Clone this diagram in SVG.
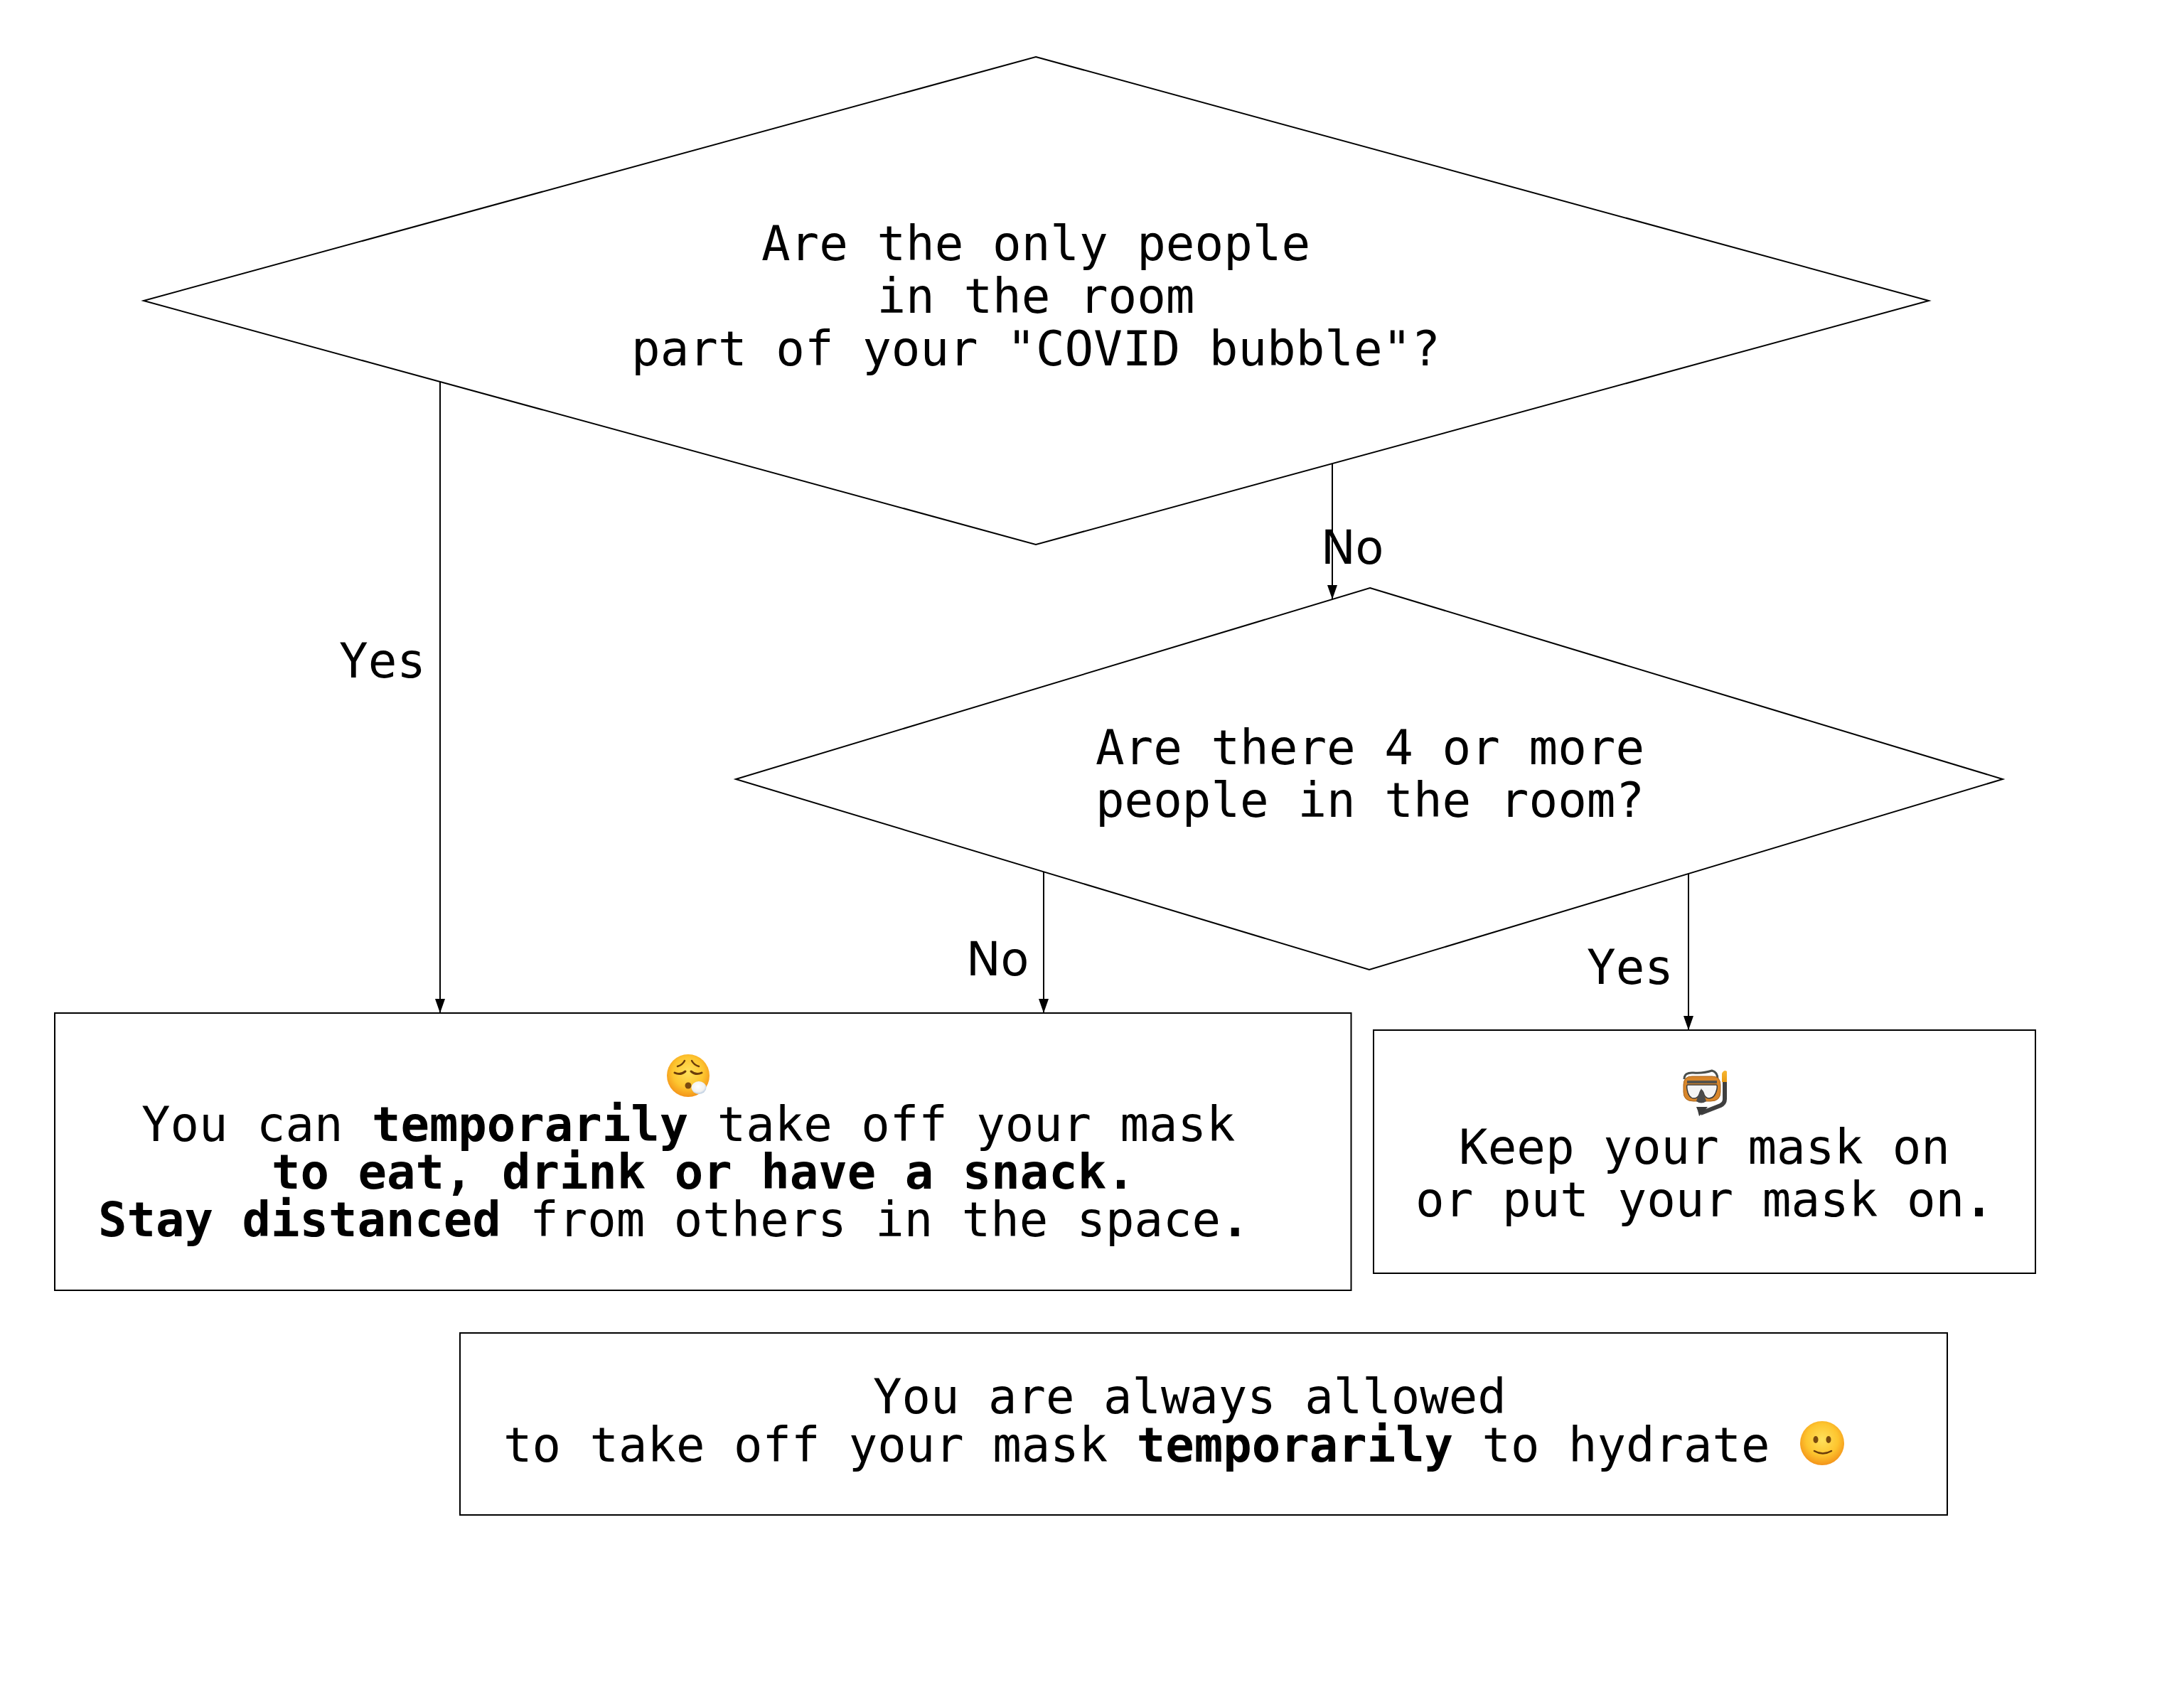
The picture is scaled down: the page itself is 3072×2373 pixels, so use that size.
<svg xmlns="http://www.w3.org/2000/svg" width="3072" height="2373" viewBox="0 0 3072 2373">
<style>
.c{fill:none;stroke:#000;stroke-width:2}
.o{fill:none;stroke:#000;stroke-width:2}
text{font-family:"DejaVu Sans Mono","Liberation Mono",monospace;font-size:67.5px;fill:#000;text-anchor:middle}
.l{text-anchor:start}
.t{font-size:67.25px}
.p{font-family:"DejaVu Sans","Liberation Sans",sans-serif;font-size:65px}
tspan.b{font-weight:bold}
</style>
<defs>
<marker id="arrow" markerUnits="userSpaceOnUse" viewBox="0 0 20 14" refX="20" refY="7" markerWidth="20" markerHeight="14" orient="auto"><path d="M0 0V14L20 7Z" fill="#000"/></marker>
<radialGradient id="face" cx="0.5" cy="0.42" r="0.6"><stop offset="0" stop-color="#ffe15c"/><stop offset="0.6" stop-color="#fdc52f"/><stop offset="0.92" stop-color="#f59a1c"/><stop offset="1" stop-color="#ee8a1a"/></radialGradient>
<radialGradient id="puff" cx="0.45" cy="0.4" r="0.6"><stop offset="0" stop-color="#fff"/><stop offset="0.7" stop-color="#f2f2f2"/><stop offset="1" stop-color="#b8cbe0"/></radialGradient>
<linearGradient id="tip" x1="0" y1="0" x2="0" y2="1"><stop offset="0" stop-color="#f7b733"/><stop offset="1" stop-color="#e89a12"/></linearGradient>
</defs>
<rect width="3072" height="2373" fill="#fff"/>
<g id="connectors">
<path class="c" d="M619 537V1425" marker-end="url(#arrow)"/>
<path class="c" d="M1874 653V843" marker-end="url(#arrow)"/>
<path class="c" d="M1468 1226V1425" marker-end="url(#arrow)"/>
<path class="c" d="M2375 1229V1449" marker-end="url(#arrow)"/>
</g>
<g id="decision-bubble">
<path class="o" d="M1457 80L2713 423L1457 766L202 423Z"/>
<text x="1457" y="366">Are the only people</text>
<text x="1457" y="440">in the room</text>
<text x="1457" y="514">part of your "COVID bubble"?</text>
</g>
<g id="decision-count">
<path class="o" d="M1927 827L2817 1096L1926 1364L1035 1096Z"/>
<text x="1927" y="1075">Are there 4 or more</text>
<text x="1927" y="1149">people in the room?</text>
</g>
<g id="outcome-temporary">
<rect class="o" x="77" y="1425" width="1823.500" height="390"/>
<circle cx="968" cy="1513" r="30" fill="url(#face)"/>
<path d="M953 1500Q960 1498 963 1492M973 1492Q976 1498 983 1500" fill="none" stroke="#6b3d0a" stroke-width="2.500" stroke-linecap="round"/>
<path d="M949 1509Q957 1513 964 1507M972 1507Q979 1513 987 1509" fill="none" stroke="#6b3d0a" stroke-width="3" stroke-linecap="round"/>
<circle cx="968" cy="1527" r="4.500" fill="#7a4a0e"/>
<ellipse cx="983" cy="1530" rx="10.500" ry="9" fill="url(#puff)"/>
<text class="l t" x="199" y="1605">You can <tspan class="b">temporarily</tspan> take off your mask</text>
<text class="l t" x="382" y="1672"><tspan class="b">to eat, drink or have a snack.</tspan></text>
<text class="l t" x="138" y="1739"><tspan class="b">Stay distanced</tspan> from others in the space<tspan class="b">.</tspan></text>
</g>
<g id="outcome-keep">
<rect class="o" x="1932" y="1449" width="931" height="342"/>
<path d="M2369 1518Q2369 1508 2382 1509Q2396 1510 2408 1506Q2416 1508 2416 1518" fill="none" stroke="#4a4f4c" stroke-width="3"/>
<path d="M2368 1526Q2368 1514 2380 1514H2408Q2420 1514 2420 1526V1536Q2420 1549 2406 1549H2382Q2368 1549 2368 1536Z" fill="#d8862a" stroke="#a8651c" stroke-width="1"/>
<path d="M2373 1520H2415V1524H2373Z" fill="#55524a"/>
<path d="M2374 1526H2414Q2416 1526 2415 1532Q2412 1545 2404 1545Q2398 1545 2396 1537Q2393 1530 2391 1537Q2389 1545 2383 1545Q2375 1545 2373 1532Q2372 1526 2374 1526Z" fill="#f4f4f4" stroke="#3c3c3c" stroke-width="1.500"/>
<path d="M2393 1531Q2387 1545 2386 1549Q2393 1554 2400 1549Q2399 1545 2393 1531Z" fill="#4a4a4a"/>
<path d="M2426 1522V1546Q2426 1552 2420 1555L2392 1566" fill="none" stroke="#3f3f3f" stroke-width="6"/>
<path d="M2386 1557H2402L2396 1564L2390 1570L2388 1562Z" fill="#3a3a3a"/>
<path d="M2422 1510Q2425 1504 2429 1507V1522H2422Z" fill="url(#tip)"/>
<text x="2397.500" y="1637">Keep your mask on</text>
<text x="2397.500" y="1711">or put your mask on<tspan class="b">.</tspan></text>
</g>
<g id="note-hydrate">
<rect class="o" x="647" y="1875" width="2092" height="256"/>
<text class="l t" x="1228" y="1988">You are always allowed</text>
<text class="l t" x="708" y="2056">to take off your mask <tspan class="b">temporarily</tspan> to hydrate</text>
<circle cx="2563" cy="2030" r="31" fill="url(#face)"/>
<ellipse cx="2554" cy="2025" rx="3.500" ry="5" fill="#7a4a0e"/>
<ellipse cx="2572" cy="2025" rx="3.500" ry="5" fill="#7a4a0e"/>
<path d="M2552 2041Q2564 2048 2576 2041" fill="none" stroke="#6b3d0a" stroke-width="2.500" stroke-linecap="round"/>
</g>
<g id="edge-labels">
<text class="l" x="477" y="953">Yes</text>
<text class="l p" x="1858" y="793">No</text>
<text class="l p" x="1359" y="1372">No</text>
<text class="l" x="2232" y="1384">Yes</text>
</g>
</svg>
